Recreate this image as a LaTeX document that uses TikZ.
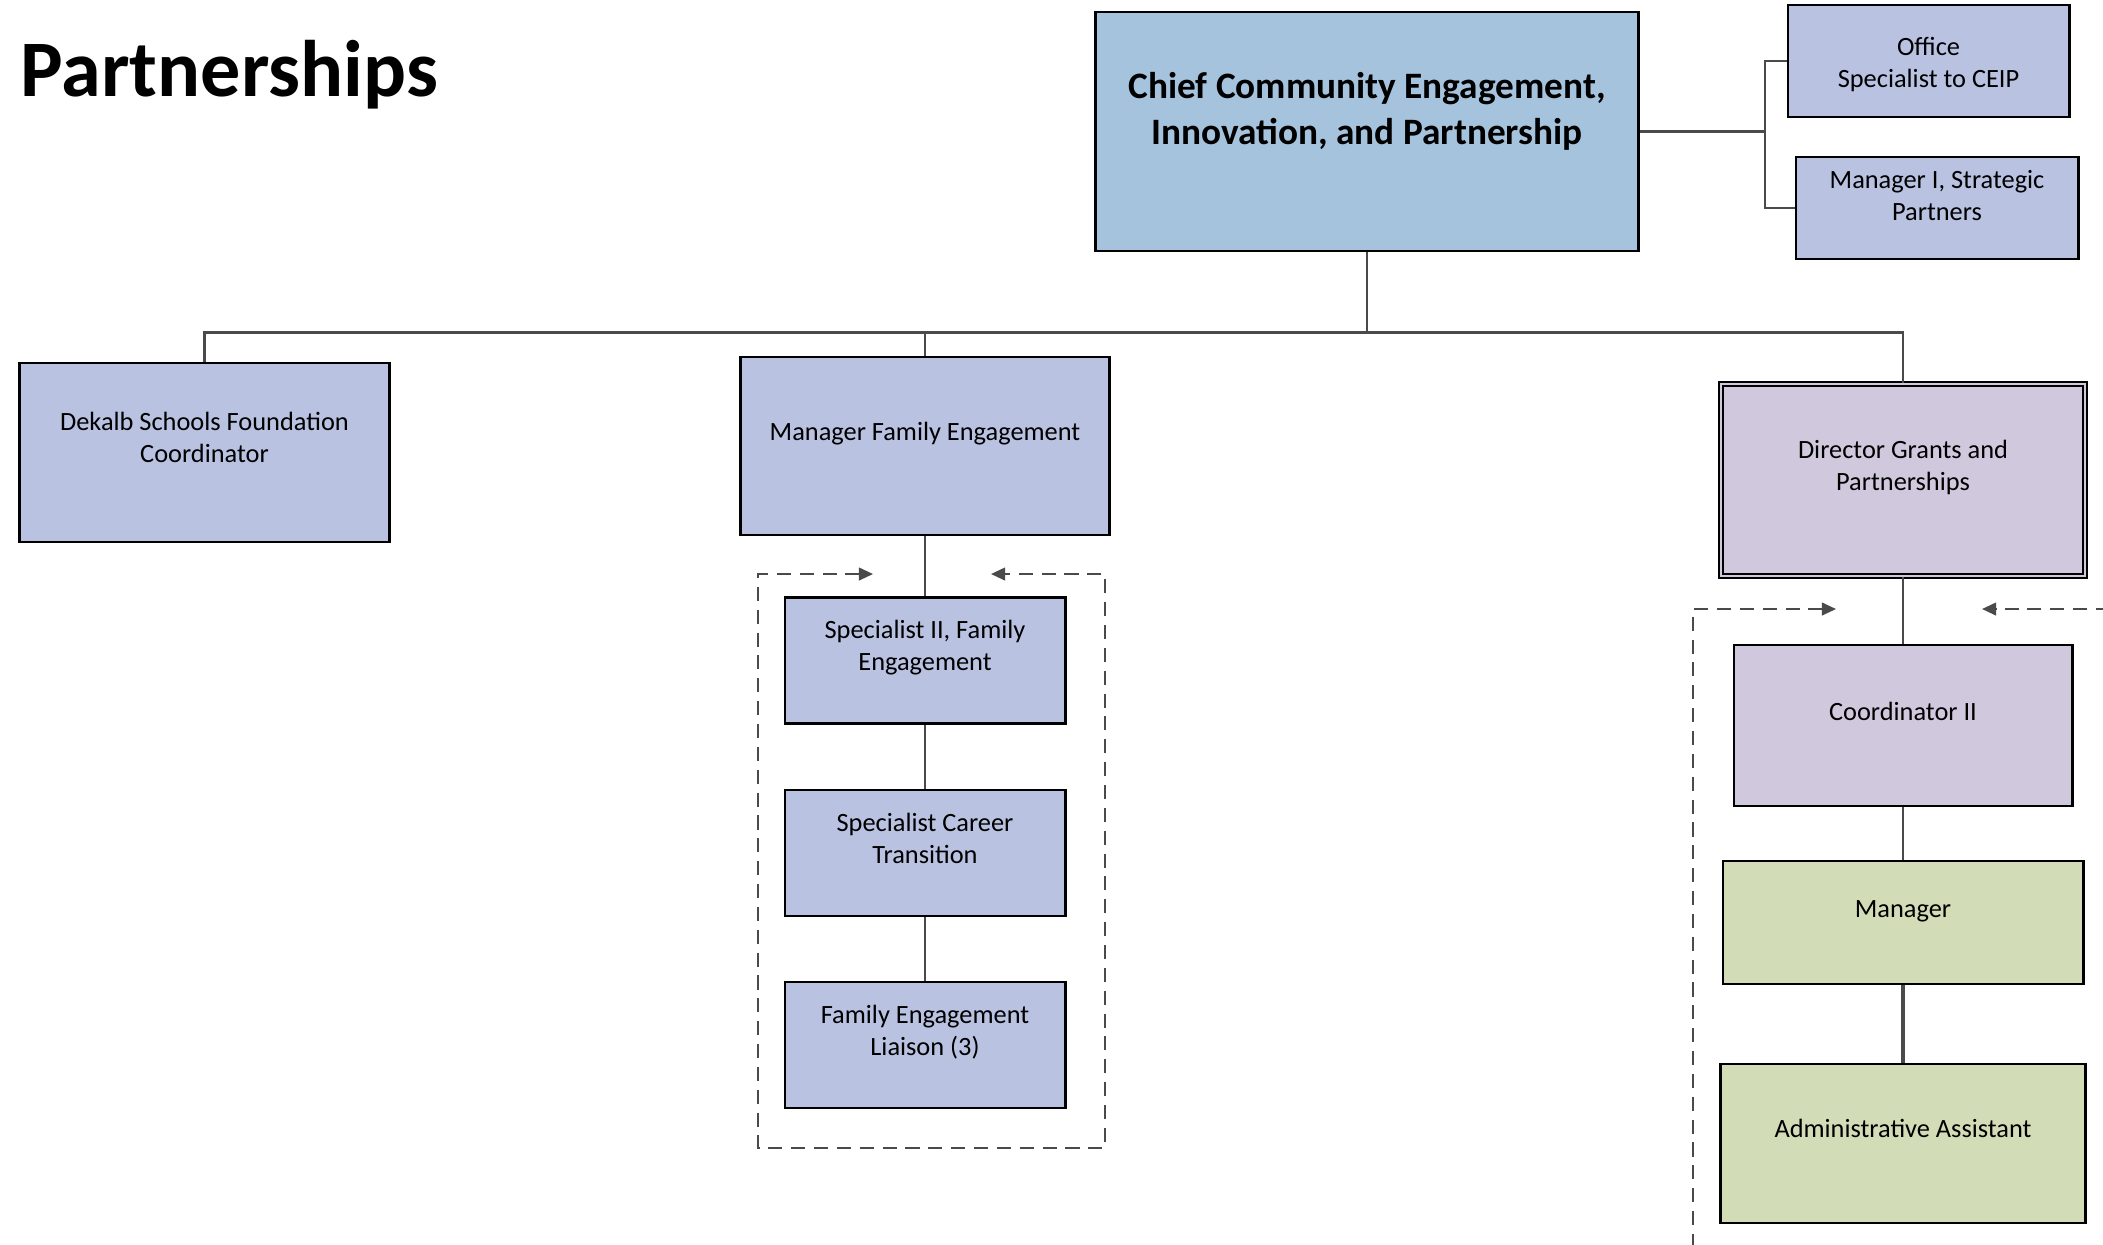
\documentclass[tikz,border=0pt]{standalone}
\usepackage{fontspec}
\setmainfont{Carlito}
\usetikzlibrary{arrows.meta}

\definecolor{chiefblue}{HTML}{A6C3DD}
\definecolor{unitblue}{HTML}{B9C2E1}
\definecolor{grantlilac}{HTML}{D0C9DE}
\definecolor{staffgreen}{HTML}{D2DCB7}
\definecolor{linkgray}{HTML}{4A4A4A}

\begin{document}
\begin{tikzpicture}[x=0.01cm, y=-0.01cm,
  >={Triangle[length=4pt,width=3.6pt]},
  box/.style={draw=black, line width=0.8pt, fill=unitblue, inner sep=0pt},
  txt/.style={font=\fontsize{7.5}{9.1}\selectfont, align=center, inner sep=0pt},
  link/.style={draw=linkgray, line width=0.8pt},
  feedback/.style={draw=linkgray, line width=0.6pt, dash pattern=on 4pt off 2.5pt}]

\useasboundingbox (0,0) rectangle (2103,1244);

\node[anchor=base west, inner sep=0pt, font=\fontsize{22.8}{27}\selectfont\bfseries] (title) at (20,96) {Partnerships};

% top of the chart
\node[box, fill=chiefblue, minimum width=5.42cm, minimum height=2.39cm] (chief) at (1367,131.5) {};
\node[txt, font=\fontsize{10.6}{13}\selectfont\bfseries] (chief-t) at ([yshift=0.20cm]chief.center) {Chief Community Engagement,\\Innovation, and Partnership};

\node[box, minimum width=2.81cm, minimum height=1.12cm] (office) at (1928.5,61) {};
\node[txt] (office-t) at ([yshift=-0.03cm]office.center) {Office\\Specialist to CEIP};
\node[box, minimum width=2.82cm, minimum height=1.02cm] (mgrone) at (1937,208) {};
\node[txt] (mgrone-t) at ([yshift=0.12cm]mgrone.center) {Manager I, Strategic\\Partners};

\coordinate (spine) at (1765,131.5);
\draw[link] (chief.east) -- (spine);
\draw[link] (office.west) -| (spine) |- (mgrone.west);

% second row
\node[box, minimum width=3.69cm, minimum height=1.79cm] (dekalb) at (204.5,452.5) {};
\node[txt] (dekalb-t) at ([yshift=0.15cm]dekalb.center) {Dekalb Schools Foundation\\Coordinator};

\node[box, minimum width=3.69cm, minimum height=1.78cm] (mfe) at (925,446) {};
\node[txt] (mfe-t) at ([yshift=0.12cm]mfe.center) {Manager Family Engagement};

\node[box, fill=grantlilac, double=grantlilac, double distance=0.6pt, line width=0.5pt,
  minimum width=3.64cm, minimum height=1.92cm] (director) at (1903,480) {};
\node[txt] (director-t) at ([yshift=0.13cm]director.center) {Director Grants and\\Partnerships};

\draw[link] (chief.south) -- ++(0,80) coordinate (bus);
\draw[link] (dekalb.north) |- (bus) -| (director.north);
\draw[link] (mfe.north) -- (mfe.north |- bus);

% family engagement column
\foreach \n/\y/\s/\t in {sptwo/660.5/0.13/{Specialist II, Family\\Engagement},
                     career/853/0.15/{Specialist Career\\Transition},
                     liaison/1045/0.13/{Family Engagement\\Liaison (3)}}{
\node[box, minimum width=2.80cm, minimum height=1.26cm] (\n) at (925,\y) {};
\node[txt] (\n-t) at ([yshift=\s cm]\n.center) {\t};
}
\draw[link] (mfe.south) -- (sptwo.north);
\draw[link] (sptwo.south) -- (career.north);
\draw[link] (career.south) -- (liaison.north);

\coordinate (fam-in) at (873,574);
\coordinate (fam-out) at (991,574);
\draw[feedback, <->] (fam-in) -- (758,574) -- (758,1148) -- (1105,1148) -- (1105,574) -- (fam-out);

% grants column
\node[box, fill=grantlilac, minimum width=3.38cm, minimum height=1.61cm] (coordtwo) at (1903,725.5) {};
\node[txt] (coordtwo-t) at ([yshift=0.14cm]coordtwo.center) {Coordinator II};
\node[box, fill=staffgreen, minimum width=3.60cm, minimum height=1.23cm] (manager) at (1903,922.5) {};
\node[txt] (manager-t) at ([yshift=0.11cm]manager.center) {Manager};
\node[box, fill=staffgreen, minimum width=3.65cm, minimum height=1.59cm] (admin) at (1903,1143.5) {};
\node[txt] (admin-t) at ([yshift=0.15cm]admin.center) {Administrative Assistant};

\draw[link] (director.south) -- (coordtwo.north);
\draw[link] (coordtwo.south) -- (manager.north);
\draw[link, line width=1.1pt] (manager.south) -- (admin.north);

\coordinate (grant-in) at (1836,609);
\coordinate (grant-out) at (1982,609);
\draw[feedback, <-] (grant-in) -- (1693,609) -- (1693,1250);
\draw[feedback, ->] (2110,609) -- (grant-out);

\end{tikzpicture}
\end{document}
